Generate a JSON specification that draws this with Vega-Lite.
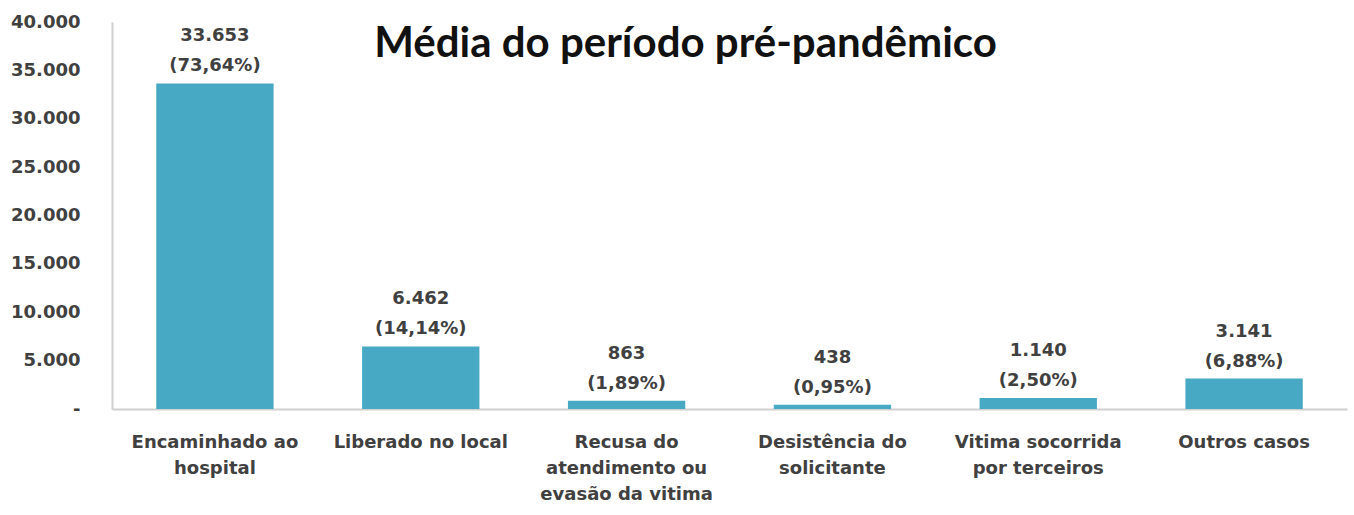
{
  "$schema": "https://vega.github.io/schema/vega-lite/v6.json",
  "autosize": {"type": "none"},
  "width": 1235,
  "height": 387,
  "padding": {"left": 112, "top": 22, "right": 7, "bottom": 106},
  "background": "white",
  "layer": [
    {
      "data": {
        "values": [
          {"categoria": "Encaminhado ao|hospital", "valor": 33653, "rotulo": "33.653\n(73,64%)"},
          {"categoria": "Liberado no local", "valor": 6462, "rotulo": "6.462\n(14,14%)"},
          {"categoria": "Recusa do|atendimento ou|evasão da vitima", "valor": 863, "rotulo": "863\n(1,89%)"},
          {"categoria": "Desistência do|solicitante", "valor": 438, "rotulo": "438\n(0,95%)"},
          {"categoria": "Vitima socorrida|por terceiros", "valor": 1140, "rotulo": "1.140\n(2,50%)"},
          {"categoria": "Outros casos", "valor": 3141, "rotulo": "3.141\n(6,88%)"}
        ]
      },
      "encoding": {
        "x": {
          "field": "categoria",
          "type": "nominal",
          "sort": null,
          "scale": {"paddingInner": 0.43},
          "axis": {
            "title": null,
            "labelAngle": 0,
            "labelExpr": "split(datum.label, '|')",
            "labelFont": "DejaVu Sans",
            "labelFontSize": 18,
            "labelFontWeight": "bold",
            "labelColor": "#404040",
            "labelLineHeight": 26,
            "labelBaseline": "top",
            "labelPadding": 24,
            "labelLimit": 0,
            "ticks": false,
            "domainColor": "#d0d0d0",
            "domainWidth": 2
          }
        },
        "y": {
          "field": "valor",
          "type": "quantitative",
          "scale": {"domain": [0, 40000], "nice": false},
          "axis": {
            "title": null,
            "values": [0, 5000, 10000, 15000, 20000, 25000, 30000, 35000, 40000],
            "labelExpr": "datum.value == 0 ? '-' : replace(format(datum.value, ','), ',', '.')",
            "labelFont": "DejaVu Sans",
            "labelFontSize": 18,
            "labelFontWeight": "bold",
            "labelColor": "#404040",
            "labelPadding": 32,
            "ticks": false,
            "grid": false,
            "domainColor": "#d0d0d0",
            "domainWidth": 2
          }
        }
      },
      "layer": [
        {"mark": {"type": "bar", "color": "#47a9c4"}},
        {
          "mark": {
            "type": "text",
            "baseline": "bottom",
            "align": "center",
            "dy": -38,
            "lineBreak": "\n",
            "lineHeight": 30,
            "font": "DejaVu Sans",
            "fontSize": 18,
            "fontWeight": "bold",
            "color": "#404040"
          },
          "encoding": {"text": {"field": "rotulo"}}
        }
      ]
    },
    {
      "data": {"values": [{"titulo": "Média do período pré-pandêmico", "pos": 0.4644, "nivel": 36382}]},
      "mark": {
        "type": "text",
        "align": "center",
        "baseline": "alphabetic",
        "font": "Lato",
        "fontSize": 42,
        "fontWeight": "bold",
        "color": "#111111"
      },
      "encoding": {
        "x": {"field": "pos", "type": "quantitative", "scale": {"domain": [0, 1]}, "axis": null},
        "y": {"field": "nivel", "type": "quantitative"},
        "text": {"field": "titulo"}
      }
    }
  ],
  "resolve": {"scale": {"x": "independent"}, "axis": {"x": "independent"}},
  "config": {"view": {"stroke": null}}
}
